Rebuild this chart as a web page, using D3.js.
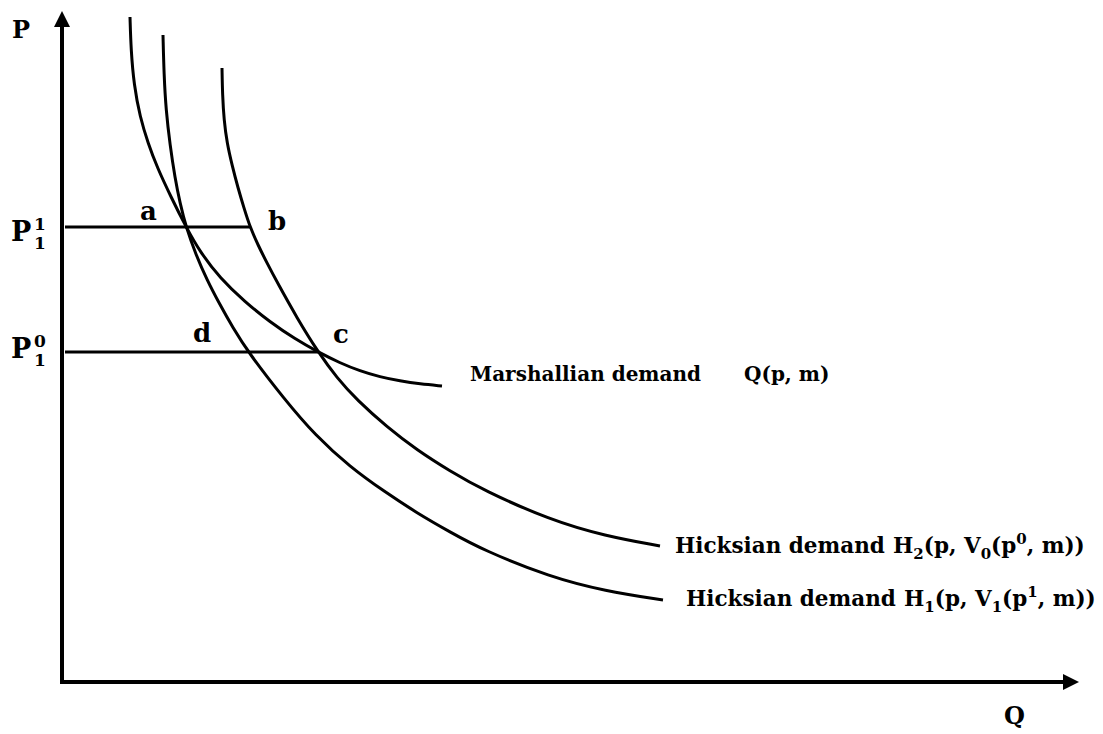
<!DOCTYPE html>
<html>
<head>
<meta charset="utf-8">
<script src="https://cdn.jsdelivr.net/npm/d3@7"></script>
<style>
  body { margin: 0; background: #fff; }
  text { font-family: "DejaVu Serif", serif; font-weight: bold; fill: #000; }
</style>
</head>
<body>
<div id="chart"></div>
<script>
let w = 1103;
let h = 734;

// price levels (P1 at time 1 and time 0)
const priceLevels = [455, 330];
const priceQEnd = [187, 255];   // where each horizontal line stops (b and c)

// Marshallian demand Q(p, m)
const marshallQ = [67, 68, 71, 77, 85, 94, 108, 123, 137, 157, 182, 207, 232, 255, 277, 297, 317, 337, 357, 379];
const marshallP = [665, 632, 597, 565, 539, 515, 485, 455, 430, 404, 380, 360, 343, 330, 319, 311, 305, 301, 298, 296];

// Hicksian demand H1
const hicks1Q = [100, 101, 103, 107, 112, 117, 123, 133, 144, 156, 170, 185, 222, 252, 287, 322, 354, 387, 420, 487, 542, 600];
const hicks1P = [647, 607, 572, 537, 504, 479, 455, 427, 402, 379, 354, 330, 282, 247, 215, 190, 169, 150, 132, 105, 91, 82];

// Hicksian demand H2
const hicks2Q = [159, 159.5, 161, 164, 169, 175, 181, 187, 195, 204, 214, 234, 255, 274, 294, 324, 354, 387, 420, 487, 542, 597];
const hicks2P = [614, 587, 562, 539, 517, 494, 474, 455, 437, 419, 400, 364, 330, 304, 282, 255, 232, 211, 192, 162, 146, 136];

// point labels a, b, c, d
const pointNames = ["a", "b", "d", "c"];
const pointQ = [77, 205, 130, 270];
const pointP = [462, 452, 340, 339];

let svg = d3.select("#chart")
    .append("svg")
    .attr("width", w)
    .attr("height", h);

let xScale = d3.scaleLinear().domain([0, 1015]).range([63, 1078]);
let yScale = d3.scaleLinear().domain([0, 670]).range([682, 12]);

// arrow heads
svg.append("defs").append("marker")
    .attr("id", "arrow")
    .attr("viewBox", "0 0 10 10")
    .attr("refX", 0)
    .attr("refY", 5)
    .attr("markerUnits", "userSpaceOnUse")
    .attr("markerWidth", 16)
    .attr("markerHeight", 17)
    .attr("orient", "auto")
    .append("path")
    .attr("d", "M0,0L10,5L0,10z")
    .attr("fill", "#000");

let line = d3.line()
    .x(d => xScale(d[0]))
    .y(d => yScale(d[1]));

// axes
svg.append("path")
    .attr("d", line([[-1, -2], [-1, 655]]))
    .attr("stroke", "#000").attr("stroke-width", 4).attr("fill", "none")
    .attr("marker-end", "url(#arrow)");
svg.append("path")
    .attr("d", line([[-3, 0], [1000, 0]]))
    .attr("stroke", "#000").attr("stroke-width", 4).attr("fill", "none")
    .attr("marker-end", "url(#arrow)");

// horizontal price lines
priceLevels.forEach((p, i) => {
    svg.append("path")
        .attr("d", line([[2, p], [priceQEnd[i], p]]))
        .attr("stroke", "#000").attr("stroke-width", 3).attr("fill", "none");
});

// demand curves
let curve = d3.line()
    .x(d => xScale(d[0]))
    .y(d => yScale(d[1]))
    .curve(d3.curveBasis);

[[marshallQ, marshallP], [hicks1Q, hicks1P], [hicks2Q, hicks2P]].forEach(s => {
    svg.append("path")
        .datum(d3.zip(s[0], s[1]))
        .attr("d", curve)
        .attr("stroke", "#000")
        .attr("stroke-width", 3)
        .attr("fill", "none");
});

// axis titles
svg.append("text").attr("x", 12).attr("y", 38).style("font-size", "24px").text("P");
svg.append("text").attr("x", 1004).attr("y", 724).style("font-size", "24px").text("Q");

// price labels
let supers = ["1", "0"];
priceLevels.forEach((p, i) => {
    let y0 = yScale(p);
    let base = i == 0 ? y0 + 14 : y0 + 6;
    svg.append("text").attr("x", 11).attr("y", base).style("font-size", "27px").text("P");
    svg.append("text").attr("x", 34).attr("y", base - 11).style("font-size", "17px").text(supers[i]);
    svg.append("text").attr("x", 34).attr("y", base + 8).style("font-size", "17px").text("1");
});

// point labels
pointNames.forEach((n, i) => {
    svg.append("text")
        .attr("x", xScale(pointQ[i]))
        .attr("y", yScale(pointP[i]))
        .style("font-size", "26px")
        .text(n);
});

// curve labels with sub/superscripts
function label(x, y, size, parts) {
    let t = svg.append("text").attr("x", x).attr("y", y).style("font-size", size + "px");
    parts.forEach(p => {
        let s = t.append("tspan").text(p[0]);
        if (p[1] == "sub") s.attr("dy", 6).style("font-size", "15px");
        else if (p[1] == "sup") s.attr("dy", -9).style("font-size", "15px");
        else if (p[1] == "up") s.attr("dy", -6);
        else if (p[1] == "down") s.attr("dy", 9);
        if (p[2] != null) s.attr("x", p[2]);
    });
}

label(470, 381, 20, [["Marshallian demand"], ["Q(p, m)", "", 744]]);
label(675, 553, 21.5, [["Hicksian demand"], ["H", "", 893], ["2", "sub"], ["(p, V", "up"], ["0", "sub"], ["(p", "up"], ["0", "sup"], [", m))", "down"]]);
label(686, 606, 21.5, [["Hicksian demand"], ["H", "", 904], ["1", "sub"], ["(p, V", "up"], ["1", "sub"], ["(p", "up"], ["1", "sup"], [", m))", "down"]]);
</script>
</body>
</html>
